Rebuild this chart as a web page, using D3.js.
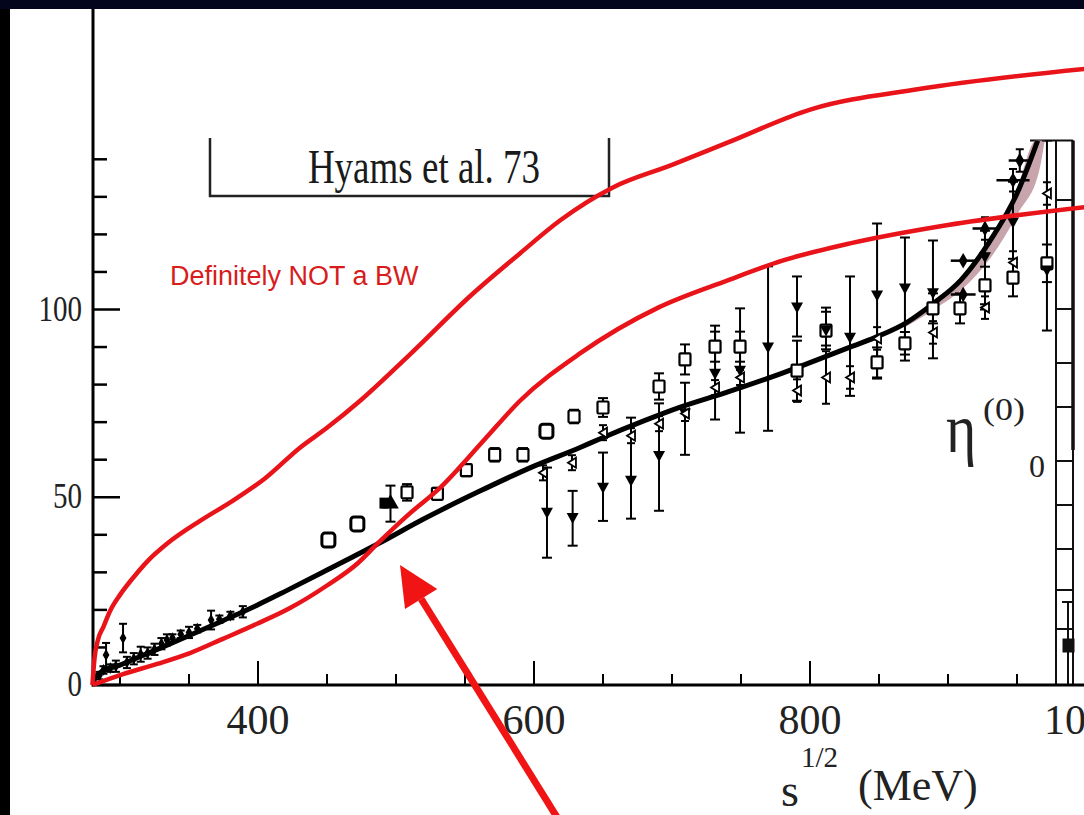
<!DOCTYPE html>
<html><head><meta charset="utf-8">
<script src="https://cdn.jsdelivr.net/npm/d3@7"></script>
<style>html,body{margin:0;padding:0;background:#000;overflow:hidden} svg{display:block}</style>
</head><body>
<svg id="c" width="1084" height="815"></svg>
<script>
// ---------------- DATA ----------------
const xTicksMajor = [400, 600, 800, 1000];
const xTicksMinor = [300, 350, 450, 500, 550, 650, 700, 750, 850, 900, 950];
const yTicksMajor = [0, 50, 100];
const yTicksMinor = [10, 20, 30, 40, 60, 70, 80, 90, 110, 120, 130, 140];
const xTickLabels = ["400", "600", "800", "1000"];
const yTickLabels = ["0", "50", "100"];

// theory curve (black) [MeV, eta]
const theory = [[280,0],[283,2.5],[302,5.6],[327,9.5],[351,13.3],[375,17.2],[399,21.2],[420,25],[450,30.6],[488,37.8],[520,44.2],[560,51.5],[600,58.3],[633,63.2],[648,65.6],[680,70.4],[706,74],[740,78],[778,82.8],[829,90],[851,93.1],[870,96.5],[889,101.5],[909,107.7],[930,118],[950,130.9],[965,145]];
// uncertainty band [MeV, lo, hi]
const band = [[870,96,96.8],[889,100.3,101.8],[909,105.5,108],[930,114,118.2],[950,126,131],[965,137,145],[969,145,145]];
// red hand-drawn curves
const redUpper = [[280,0],[281.5,7],[284,12],[288,15.5],[292.8,19.7],[300,24],[309.4,28.5],[320,33],[334,37.6],[358,43.7],[381.9,49.1],[405,55],[430.4,63.2],[450,68.5],[474,75.7],[510,88],[555,104],[590,115],[618.8,123.7],[657.2,132.5],[700,138.5],[740.6,144.5],[800.7,153.3],[879,158.7],[1005,164.3]];
const redLower = [[280,0],[302.2,2.9],[326.8,5.6],[350.7,8.5],[374.6,12.3],[399.3,16.3],[423.2,20.5],[450,26.5],[472.5,32.5],[486.2,37.5],[509.4,45.5],[531.9,52.5],[564.5,65.5],[589.9,75.7],[633.3,88.3],[690,100.5],[739.9,107.7],[780,113],[829,117.6],[900,122.5],[1005,127.5]];

// low-energy points (filled diamonds) [MeV, eta, err]
const lowE = [[285,2.5,1],[288,4,1],[289.9,8,3.2],[293,4.5,1],[297,5,1.5],[302.2,12.5,3.8],[305,6,1.5],[310,7,1.5],[315,8.2,2],[320,8.5,1.5],[325,9.5,1.5],[330,11,1.5],[334,12,1.5],[338,12.5,1],[344,13.5,1],[350,14,1.5],[356,15,1],[366,17.3,2.5],[372,17.5,1],[380,18.5,1],[389,19.5,1.5]];
// open squares [MeV, eta, err]
const squares = [[451,38.6,0],[472,42.9,0],[508,51.3,2.2],[530,50.9,1.6],[551,57.2,1.6],[571.5,61.3,1.8],[592,61.3,1.8],[609,67.6,0],[629,71.5,1.8],[650,73.9,2.5],[690.6,79.5,3.5],[709.4,86.7,4],[731.2,90.1,4],[749.3,90.1,4],[790.6,83.7,8],[811.6,94.4,5],[848.6,85.9,4],[868.8,91,3],[889.1,100.3,4],[908.7,100.3,4],[926.8,106.4,5],[947.1,108.5,5],[971.7,112.3,5]];
// filled down triangles [MeV, eta, lo, hi]
const downTri = [[609.4,45.9,33.9,57.9],[628,44.5,37.1,51.7],[650,52.5,43.7,61.9],[670.3,54.4,44.3,71.2],[690.6,61,46.4,75],[709.4,72.3,61.3,80.5],[731.2,82.9,70.7,95.7],[749.3,83.7,67.2,100.3],[769.6,89.9,67.7,111.5],[790.6,100.5,92.8,108.8],[811.6,94.4,90.4,100.5],[829,92.5,77,108.8],[848.6,103.7,81.6,122.9],[868.8,105.6,86.4,119.2],[889.1,104.3,87,118.4],[926.8,113.9,100,121],[947.1,123.2,108,134],[971.7,110.4,94.4,145]];
// open small markers [MeV, eta, err]
const openMk = [[606.5,56.5,2],[627.5,59.2,2],[650,67.2,2],[670.3,66.4,2],[690.6,69.6,2],[709.4,72.3,2],[731.2,79.2,2],[749.3,81.9,2],[790.6,78.4,3],[811.6,81.9,7],[829,81.9,3],[848.6,92.3,3],[889.1,93.9,3],[926.8,100.5,3],[947.1,112.5,3],[971.7,130.9,3]];
// filled triangle up cluster [MeV, eta, err]
const upTri = [[496,48.3,4.8]];
// filled diamonds with horizontal errors [MeV, eta, xerr, yerr]
const hDiam = [[911,113,9,0],[911,104,9,0],[926.8,121.6,9,3],[947.1,134.4,12,3],[952,139.7,8,3]];

// ---------------- CHART ----------------
const svg = d3.select("#c");
const W = 1084, H = 815;
svg.append("rect").attr("width", W).attr("height", H).attr("fill", "#000");
svg.append("rect").attr("width", W).attr("height", 9).attr("fill", "#03051c");
svg.append("rect").attr("x", 10).attr("y", 9).attr("width", W - 10).attr("height", H - 9).attr("fill", "#fff");

const x = d3.scaleLinear().domain([280, 1000]).range([92.4, 1086]);
const y = d3.scaleLinear().domain([0, 180]).range([685, 9.1]);
const serif = "'Liberation Serif','Times New Roman',serif";
const sans = "'Liberation Sans',Arial,sans-serif";

const defs = svg.append("defs");
defs.append("clipPath").attr("id", "clipTop").append("rect")
  .attr("x", 93).attr("y", y(145)).attr("width", 1000).attr("height", y(0) - y(145) + 5);

const line = d3.line().x(d => x(d[0])).y(d => y(d[1])).curve(d3.curveMonotoneX);

// neighbour panel remnants at the right edge
const nb = svg.append("g").attr("stroke", "#111").attr("fill", "none");
nb.append("line").attr("x1", 1056).attr("x2", 1056).attr("y1", y(145)).attr("y2", y(0)).attr("stroke-width", 2);
nb.append("line").attr("x1", 1073).attr("x2", 1073).attr("y1", y(145)).attr("y2", y(0)).attr("stroke-width", 2);
nb.append("line").attr("x1", 1073).attr("x2", 1073).attr("y1", y(145)).attr("y2", 450).attr("stroke-width", 3.5);
nb.append("line").attr("x1", 1030).attr("x2", 1073).attr("y1", y(145)).attr("y2", y(145)).attr("stroke-width", 2);
[200, 309, 363, 407, 461, 505, 549, 590, 629].forEach(v => {
  nb.append("line").attr("x1", 1056).attr("x2", 1073).attr("y1", v).attr("y2", v).attr("stroke-width", 2);
});
nb.append("line").attr("x1", 1068).attr("x2", 1068).attr("y1", 602).attr("y2", y(0)).attr("stroke-width", 2);
nb.append("line").attr("x1", 1062).attr("x2", 1074).attr("y1", 602).attr("y2", 602).attr("stroke-width", 2);
nb.append("rect").attr("x", 1063).attr("y", 639).attr("width", 11).attr("height", 13).attr("fill", "#111");

// legend box
svg.append("path").attr("d", "M210,138 V196 H609 V138").attr("fill", "none").attr("stroke", "#222").attr("stroke-width", 2.5);
svg.append("text").attr("transform", "translate(424,183) scale(1,1.3)").attr("text-anchor", "middle")
  .attr("font-family", serif).attr("font-size", 37).attr("fill", "#1a1a1a").text("Hyams et al. 73");

// data group (clipped at original frame top)
const g = svg.append("g").attr("clip-path", "url(#clipTop)");

// band
g.append("path").datum(band)
  .attr("d", d3.area().x(d => x(d[0])).y0(d => y(d[1])).y1(d => y(d[2])).curve(d3.curveMonotoneX))
  .attr("fill", "#c29ca3").attr("stroke", "#c29ca3").attr("stroke-width", 3).attr("opacity", 0.9);

function errV(sel, px, lo, hi, cap) {
  sel.append("line").attr("x1", px).attr("x2", px).attr("y1", y(lo)).attr("y2", y(hi)).attr("stroke", "#000").attr("stroke-width", 2);
  [lo, hi].forEach(v => sel.append("line").attr("x1", px - cap).attr("x2", px + cap).attr("y1", y(v)).attr("y2", y(v)).attr("stroke", "#000").attr("stroke-width", 2));
}

// error bars
downTri.forEach(d => errV(g, x(d[0]), d[2], d[3], 5));
squares.forEach(d => { if (d[2] > 0) errV(g, x(d[0]), d[1] - d[2], d[1] + d[2], 5); });
openMk.forEach(d => errV(g, x(d[0]), d[1] - d[2], d[1] + d[2], 4));
lowE.forEach(d => errV(g, x(d[0]), d[1] - d[2], d[1] + d[2], 4));
upTri.forEach(d => errV(g, x(d[0]), d[1] - d[2], d[1] + d[2], 5));
hDiam.forEach(d => {
  g.append("line").attr("x1", x(d[0] - d[2])).attr("x2", x(d[0] + d[2])).attr("y1", y(d[1])).attr("y2", y(d[1])).attr("stroke", "#000").attr("stroke-width", 2.5);
  if (d[3] > 0) errV(g, x(d[0]), d[1] - d[3], d[1] + d[3], 4);
});

// theory curve
g.append("path").datum(theory).attr("d", line).attr("fill", "none").attr("stroke", "#000").attr("stroke-width", 5);

// markers
const sym = (type, size) => d3.symbol().type(type).size(size)();
g.selectAll(".sq").data(squares).join("rect")
  .attr("x", d => x(d[0]) - (d[2] === 0 ? 6.5 : 5.5)).attr("y", d => y(d[1]) - (d[2] === 0 ? 7 : 6))
  .attr("width", d => d[2] === 0 ? 13 : 11).attr("height", d => d[2] === 0 ? 14 : 12)
  .attr("rx", d => d[2] === 0 ? 3 : 1)
  .attr("fill", "#fff").attr("stroke", "#000").attr("stroke-width", d => d[2] === 0 ? 3 : 2.2);
g.selectAll(".dt").data(downTri).join("path")
  .attr("d", "M-6,-5 L6,-5 L0,6 Z").attr("transform", d => `translate(${x(d[0])},${y(d[1])})`).attr("fill", "#000");
g.selectAll(".om").data(openMk).join("path")
  .attr("d", "M4,-5 L-4,0 L4,5 Z").attr("transform", d => `translate(${x(d[0])},${y(d[1])})`)
  .attr("fill", "#fff").attr("stroke", "#000").attr("stroke-width", 1.8);
g.selectAll(".le").data(lowE).join("path")
  .attr("d", sym(d3.symbolDiamond, 40)).attr("transform", d => `translate(${x(d[0])},${y(d[1])})`).attr("fill", "#000");
g.selectAll(".ut").data(upTri).join("path")
  .attr("d", sym(d3.symbolTriangle, 120)).attr("transform", d => `translate(${x(d[0])},${y(d[1])})`).attr("fill", "#000");
g.selectAll(".ut2").data(upTri).join("rect")
  .attr("x", d => x(d[0]) - 11).attr("y", d => y(d[1]) - 6).attr("width", 9).attr("height", 11).attr("fill", "#000");
g.selectAll(".hd").data(hDiam).join("path")
  .attr("d", sym(d3.symbolDiamond, 70)).attr("transform", d => `translate(${x(d[0])},${y(d[1])})`).attr("fill", "#000");

// axes
const ax = svg.append("g").attr("stroke", "#000");
ax.append("line").attr("x1", 93).attr("x2", 93).attr("y1", 9).attr("y2", y(0) + 1.5).attr("stroke-width", 3);
ax.append("line").attr("x1", 92).attr("x2", W).attr("y1", y(0)).attr("y2", y(0)).attr("stroke-width", 3);
xTicksMajor.forEach(v => ax.append("line").attr("x1", x(v)).attr("x2", x(v)).attr("y1", y(0)).attr("y2", y(0) - 24).attr("stroke-width", 2));
xTicksMinor.forEach(v => ax.append("line").attr("x1", x(v)).attr("x2", x(v)).attr("y1", y(0)).attr("y2", y(0) - 11).attr("stroke-width", 2));
yTicksMajor.forEach(v => ax.append("line").attr("x1", 93).attr("x2", 120).attr("y1", y(v)).attr("y2", y(v)).attr("stroke-width", 2.5));
yTicksMinor.forEach(v => ax.append("line").attr("x1", 93).attr("x2", 107).attr("y1", y(v)).attr("y2", y(v)).attr("stroke-width", 2.5));

// tick labels
xTicksMajor.forEach((v, i) => svg.append("text").attr("x", x(v)).attr("y", 734).attr("text-anchor", "middle")
  .attr("font-family", serif).attr("font-size", 42).attr("fill", "#222").text(xTickLabels[i]));
yTicksMajor.forEach((v, i) => svg.append("text").attr("transform", `translate(82,${y(v) + 11}) scale(1,1.25)`).attr("text-anchor", "end")
  .attr("font-family", serif).attr("font-size", 29).attr("fill", "#222").text(yTickLabels[i]));

// axis title
const t = svg.append("text").attr("font-family", serif).attr("fill", "#222");
t.append("tspan").attr("x", 781).attr("y", 806).attr("font-size", 46).text("s");
t.append("tspan").attr("x", 801).attr("y", 767).attr("font-size", 29).text("1/2");
t.append("tspan").attr("x", 858).attr("y", 800).attr("font-size", 44).text("(MeV)");

// eta label
svg.append("text").attr("transform", "translate(946,452) scale(1,1.2)").attr("font-family", serif).attr("font-size", 58).attr("fill", "#222").text("η");
svg.append("text").attr("transform", "translate(983,420) scale(1,0.9)").attr("font-family", serif).attr("font-size", 36).attr("fill", "#222").text("(0)");
svg.append("text").attr("transform", "translate(1029,477)").attr("font-family", serif).attr("font-size", 32).attr("fill", "#222").text("0");

// red annotation curves
svg.append("path").datum(redUpper).attr("d", line).attr("fill", "none").attr("stroke", "#e8141a").attr("stroke-width", 4.5);
svg.append("path").datum(redLower).attr("d", line).attr("fill", "none").attr("stroke", "#e8141a").attr("stroke-width", 4.5);
svg.append("text").attr("x", 170).attr("y", 285).attr("font-family", sans).attr("font-size", 27)
  .attr("fill", "#d81c1c").text("Definitely NOT a BW");

// red arrow
const tip = [400, 565], tail = [560, 822];
const dx = tip[0] - tail[0], dy = tip[1] - tail[1], L = Math.hypot(dx, dy);
const ux = dx / L, uy = dy / L, px = -uy, py = ux;
const hl = 40, hw = 19;
const bx = tip[0] - ux * hl, by = tip[1] - uy * hl;
svg.append("line").attr("x1", tail[0]).attr("y1", tail[1]).attr("x2", bx).attr("y2", by).attr("stroke", "#f01414").attr("stroke-width", 7);
svg.append("path").attr("d", `M${tip[0]},${tip[1]} L${bx + px * hw},${by + py * hw} L${bx - px * hw},${by - py * hw} Z`).attr("fill", "#f01414");
</script>
</body></html>
